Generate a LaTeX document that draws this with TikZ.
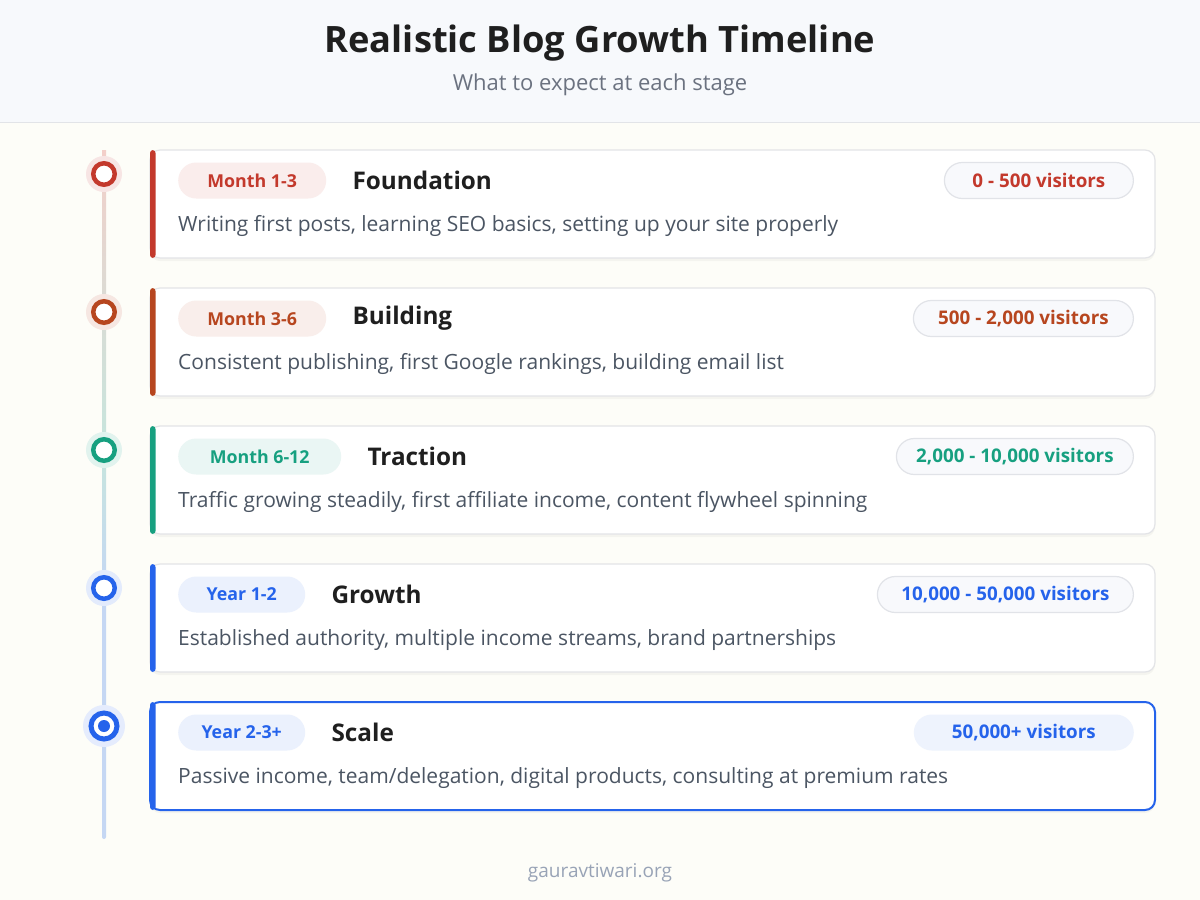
\documentclass[tikz,border=0pt]{standalone}
\usepackage{fontspec}
\setmainfont{Open Sans}
\usetikzlibrary{shadows,calc}
\definecolor{pagebg}{HTML}{FDFDF8}
\definecolor{headbg}{HTML}{F7F9FC}
\definecolor{headline}{HTML}{E2E4E8}
\definecolor{titlec}{HTML}{1F1F1F}
\definecolor{subc}{HTML}{6B7280}
\definecolor{descc}{HTML}{4B5563}
\definecolor{cardline}{HTML}{E3E4E7}
\definecolor{footc}{HTML}{98A3B6}
\definecolor{cA}{HTML}{C3392C}
\definecolor{cB}{HTML}{B7461F}
\definecolor{cC}{HTML}{17A080}
\definecolor{cD}{HTML}{2563EB}
\definecolor{visbg}{HTML}{F8F9FC}
\definecolor{visline}{HTML}{E1E3E8}
\definecolor{lA}{HTML}{F3CFC9}
\definecolor{lB}{HTML}{D9DCD5}
\definecolor{lC}{HTML}{C6E5DD}
\definecolor{lD}{HTML}{C5D7F3}
\tikzset{
  x=1pt, y=-1pt,
  card/.style={draw=cardline, line width=1.2pt, fill=white, rounded corners=10pt,
    minimum width=1005pt, minimum height=108pt, inner sep=0pt,
    drop shadow={opacity=0.07, shadow xshift=0pt, shadow yshift=-3pt}},
  badge/.style={font=\bfseries\fontsize{17.8}{20}\selectfont, rounded corners=18pt,
    minimum height=36pt, inner xsep=4pt, inner ysep=0pt, anchor=west},
  stitle/.style={font=\bfseries\fontsize{24.3}{28}\selectfont, text=titlec, anchor=west, inner sep=0pt},
  desc/.style={font=\fontsize{21}{25}\selectfont, text=descc, anchor=west, inner sep=0pt},
  vis/.style={font=\bfseries\fontsize{18.8}{22}\selectfont, rounded corners=18pt,
    minimum height=36pt, inner xsep=4pt, inner ysep=0pt, anchor=east},
  halo/.style={circle, minimum size=36pt, inner sep=0pt},
  ring/.style={circle, draw, line width=4.5pt, fill=white, minimum size=21.5pt, inner sep=0pt},
}
\begin{document}
\begin{tikzpicture}
\useasboundingbox (0,0) rectangle (1200,900);
\fill[pagebg] (0,0) rectangle (1200,900);
\fill[headbg] (0,0) rectangle (1200,122);
\draw[headline, line width=1.5pt] (0,122.5) -- (1200,122.5);
\node[font=\bfseries\fontsize{36.3}{42}\selectfont, text=titlec] (title) at (600,43) {Realistic Blog Growth Timeline};
\node[font=\fontsize{22}{26}\selectfont, text=subc] (sub) at (600,85) {What to expect at each stage};

% timeline line
\shade[top color=lA, bottom color=lB] (102,150) rectangle (106,312);
\shade[top color=lB, bottom color=lC] (102,312) rectangle (106,450);
\shade[top color=lC, bottom color=lD] (102,450) rectangle (106,588);
\fill[lD, rounded corners=2pt] (102,588) rectangle (106,839);

% cards
\foreach \i/\y/\c/\bd/\bw/\ti/\de/\vi/\vw in {
  1/150/cA/{Month 1-3}/148/Foundation/{Writing first posts, learning SEO basics, setting up your site properly}/{0 - 500 visitors}/189,
  2/288/cB/{Month 3-6}/148/Building/{Consistent publishing, first Google rankings, building email list}/{500 - 2,000 visitors}/220,
  3/426/cC/{Month 6-12}/163/Traction/{Traffic growing steadily, first affiliate income, content flywheel spinning}/{2,000 - 10,000 visitors}/237,
  4/564/cD/{Year 1-2}/127/Growth/{Established authority, multiple income streams, brand partnerships}/{10,000 - 50,000 visitors}/256}{
  \node[card] (card\i) at (652.5,\y+54) {};
  \fill[\c, rounded corners=3pt] (150,\y) rectangle (155.5,\y+108);
  \node[badge, fill=\c!9, text=\c, minimum width=\bw pt] (badge\i) at (178,\y+30.5) {\bd};
  \node[stitle] (st\i) at ($(badge\i.east)+(26,0)$) {\ti};
  \node[desc] (de\i) at (178,\y+76) {\de};
  \node[vis, fill=visbg, draw=visline, line width=1.2pt, text=\c, minimum width=\vw pt] (vis\i) at (1134,\y+30.5) {\vi};
  \node[halo, fill=\c!13] (halo\i) at (104,\y+24) {};
  \node[ring, draw=\c] (dot\i) at (104,\y+24) {};
}
% last card (highlighted)
\node[card, draw=cD, line width=2pt] (card5) at (652.5,756) {};
\fill[cD, rounded corners=3pt] (150,702) rectangle (155.5,810);
\node[badge, fill=cD!9, text=cD, minimum width=127pt] (badge5) at (178,732.5) {Year 2-3+};
\node[stitle] (st5) at ($(badge5.east)+(26,0)$) {Scale};
\node[desc] (de5) at (178,778) {Passive income, team/delegation, digital products, consulting at premium rates};
\node[vis, fill=cD!8, text=cD, minimum width=220pt] (vis5) at (1134,732.5) {50,000+ visitors};
\node[halo, fill=cD!12, minimum size=42pt] (halo5) at (104,726) {};
\node[ring, draw=cD, line width=5pt, minimum size=26pt] (dot5) at (104,726) {};
\fill[cD] (dot5.center) circle (6);

\node[font=\fontsize{19}{23}\selectfont, text=footc] (foot) at (600,873) {gauravtiwari.org};
\end{tikzpicture}
\end{document}
